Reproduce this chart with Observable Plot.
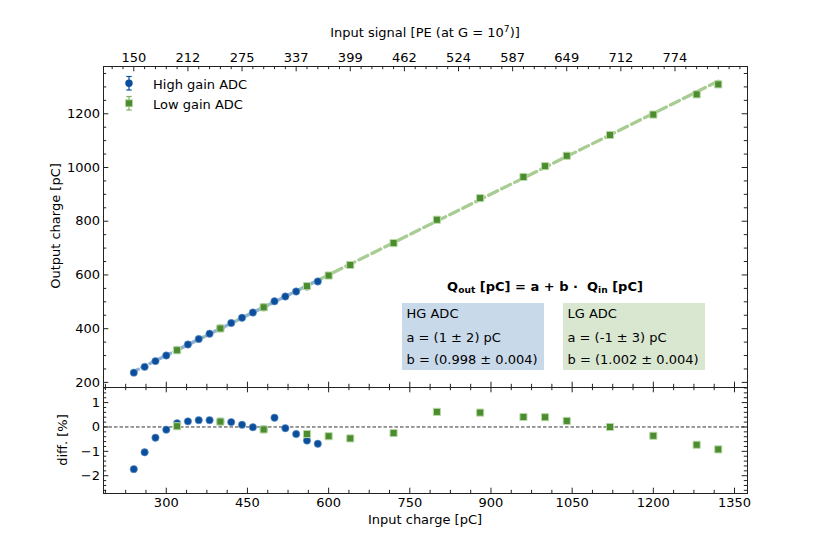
<!DOCTYPE html>
<html><head><meta charset="utf-8">
<script src="https://cdn.jsdelivr.net/npm/d3@7"></script>
<script src="https://cdn.jsdelivr.net/npm/@observablehq/plot@0.6"></script>
<style>
body{margin:0;background:#fff;}
#fig{position:relative;width:830px;height:554px;font-family:"DejaVu Sans",sans-serif;color:#000;background:#fff;overflow:hidden;}
#fig svg{position:absolute;left:0;overflow:visible;}
.abs{position:absolute;white-space:nowrap;font-size:13px;line-height:1;}
.c{transform:translate(-50%,-50%);}
.box{position:absolute;}
.box div{position:absolute;left:4.5px;white-space:nowrap;font-size:13px;line-height:1;transform:translateY(-50%);}
sub{font-size:70%;vertical-align:-0.25em;line-height:0;}
sup{font-size:70%;vertical-align:0.5em;line-height:0;}
</style></head><body><div id="fig"></div>
<script>
// ---- data ----
const hgInput  = [240,260,280,300,320,340,360,380,400,420,440,460,480,500,520,540,560,580];
const hgOutput = [236.3,257.8,279.2,300.1,320.9,341.1,361.3,381.3,401.1,421.0,440.5,460.0,479.5,501.9,519.7,538.3,556.8,575.8];
const hgDiff   = [-1.73,-1.04,-0.44,-0.11,0.15,0.23,0.28,0.28,0.22,0.20,0.09,-0.01,-0.10,0.38,-0.05,-0.29,-0.56,-0.69];
const lgInput  = [320,400,480,560,600,640,720,800,880,960,1000,1040,1120,1200,1280,1320];
const lgOutput = [319.7,400.7,479.5,558.5,597.9,637.3,718.6,805.6,886.0,964.9,1005.0,1043.7,1121.2,1197.1,1272.2,1309.4];
const lgDiff   = [0.03,0.22,-0.10,-0.29,-0.38,-0.47,-0.25,0.62,0.59,0.41,0.40,0.25,0.00,-0.36,-0.73,-0.92];
// fit lines (end points)
const hgFitX = [240,580], hgFitY = [240.5,579.8];
const lgFitX = [320,1320], lgFitY = [319.6,1321.6];
// ticks
const xMajor = [300,450,600,750,900,1050,1200,1350];
const yMajor = [200,400,600,800,1000,1200];
const diffMajor = [-2,-1,0,1];
const topTicks = [240,340,440,540,640,740,840,940,1040,1140,1240];
const topLabels = ["150","212","275","337","399","462","524","587","649","712","774"];

const hg = hgInput.map((x,i)=>({x, y:hgOutput[i], d:hgDiff[i]}));
const lg = lgInput.map((x,i)=>({x, y:lgOutput[i], d:lgDiff[i]}));
const hgFit = hgFitX.map((x,i)=>({x, y:hgFitY[i]}));
const lgFit = lgFitX.map((x,i)=>({x, y:lgFitY[i]}));

const xDomain = [184, 1374];
const blue = "#0b4f9c", green = "#4a8c2e";
const L = 103, R = 83, W = 830;
const PW = W - L - R;
const MAJ = 5.3, MIN = 3.2, TC = "#222";

const xMinor = d3.range(187.5, 1374, 37.5).filter(v => !xMajor.includes(v));
const topMinor = d3.range(200, 1374, 20).filter(v => !topTicks.includes(v));
const yMinor = d3.range(200, 1376, 50).filter(v => !yMajor.includes(v));
const dMinor = d3.range(-26, 17, 2).map(v => v/10).filter(v => !diffMajor.includes(v));

function ticksX(vals, H, len, side) {
  return Plot.tickX(vals, {x: d => d, stroke: TC, strokeWidth: 1,
    [side === "bottom" ? "insetTop" : "insetBottom"]: H - len});
}
function ticksY(vals, len, side) {
  return Plot.tickY(vals, {y: d => d, stroke: TC, strokeWidth: 1,
    [side === "left" ? "insetRight" : "insetLeft"]: PW - len});
}
const fmtPlain = d => String(d);
const fmtMinus = d => d < 0 ? "\u2212" + Math.abs(d) : String(d);

// ---- main panel ----
const mainTop = 66, mainH = 387;
const mH = mainH - mainTop;
const main = Plot.plot({
  width: W, height: mainH,
  marginTop: mainTop, marginBottom: 0, marginLeft: L, marginRight: R,
  x: {domain: xDomain}, y: {domain: [181, 1376]},
  style: {fontFamily: "DejaVu Sans", fontSize: "13px", color: "#000", background: "transparent", overflow: "visible"},
  marks: [
    Plot.line(lgFit, {x: "x", y: "y", stroke: "#a8cd93", strokeWidth: 3.3, strokeDasharray: "10,4.5"}),
    Plot.line(hgFit, {x: "x", y: "y", stroke: "#8fb1d8", strokeWidth: 3.3, strokeDasharray: "5,4"}),
    Plot.dot(hg, {x: "x", y: "y", symbol: "circle", r: 3.7, fill: blue, stroke: "#6f98c9", strokeWidth: 0.6}),
    Plot.dot(lg, {x: "x", y: "y", symbol: "square", r: 4.0, fill: green, stroke: "#b9d8a6", strokeWidth: 1}),
    ticksX(xMajor, mH, MAJ, "bottom"), ticksX(xMinor, mH, MIN, "bottom"),
    ticksX(topTicks, mH, MAJ, "top"), ticksX(topMinor, mH, MIN, "top"),
    ticksY(yMajor, MAJ, "left"), ticksY(yMinor, MIN, "left"),
    ticksY(yMajor, MAJ, "right"), ticksY(yMinor, MIN, "right"),
    Plot.frame({stroke: TC, strokeWidth: 1}),
    Plot.axisX({anchor: "top", ticks: topTicks, tickSize: 0, tickPadding: 5,
      tickFormat: d => topLabels[topTicks.indexOf(d)], label: null}),
    Plot.axisY({anchor: "left", ticks: yMajor, tickSize: 0, tickPadding: 3.5, tickFormat: fmtPlain, label: null})
  ]
});
main.style.top = "0px";

// ---- residual panel ----
const resH = 554 - mainH, resBottom = 493 - mainH;
const rH = resBottom;
const res = Plot.plot({
  width: W, height: resH,
  marginTop: 0, marginBottom: resH - resBottom, marginLeft: L, marginRight: R,
  x: {domain: xDomain}, y: {domain: [-2.73, 1.62]},
  style: {fontFamily: "DejaVu Sans", fontSize: "13px", color: "#000", background: "transparent", overflow: "visible"},
  marks: [
    Plot.ruleY([0], {stroke: "#333", strokeWidth: 1, strokeDasharray: "3.5,2"}),
    Plot.dot(hg, {x: "x", y: "d", symbol: "circle", r: 3.7, fill: blue, stroke: "#6f98c9", strokeWidth: 0.6}),
    Plot.dot(lg, {x: "x", y: "d", symbol: "square", r: 4.0, fill: green, stroke: "#b9d8a6", strokeWidth: 1}),
    ticksX(xMajor, rH, MAJ, "bottom"), ticksX(xMinor, rH, MIN, "bottom"),
    ticksX(xMajor, rH, MAJ, "top"), ticksX(xMinor, rH, MIN, "top"),
    ticksY(diffMajor, MAJ, "left"), ticksY(dMinor, MIN, "left"),
    ticksY(diffMajor, MAJ, "right"), ticksY(dMinor, MIN, "right"),
    Plot.frame({stroke: TC, strokeWidth: 1}),
    Plot.axisX({anchor: "bottom", ticks: xMajor, tickSize: 0, tickPadding: 4, tickFormat: fmtPlain, label: null}),
    Plot.axisY({anchor: "left", ticks: diffMajor, tickSize: 0, tickPadding: 3.5, tickFormat: fmtMinus, label: null})
  ]
});
res.style.top = mainH + "px";

const fig = document.getElementById("fig");
fig.appendChild(main);
fig.appendChild(res);

// ---- titles, legend, annotations ----
fig.insertAdjacentHTML("beforeend", `
<div class="abs c" style="left:425px;top:32px;">Input signal [PE (at G = 10<sup>7</sup>)]</div>
<div class="abs c" style="left:425px;top:519px;">Input charge [pC]</div>
<div class="abs" style="left:55px;top:226px;transform:translate(-50%,-50%) rotate(-90deg);">Output charge [pC]</div>
<div class="abs" style="left:62px;top:440px;transform:translate(-50%,-50%) rotate(-90deg);">diff. [%]</div>

<svg width="20" height="40" style="left:119px;top:73px;position:absolute;">
  <g stroke="${blue}" stroke-width="1.2"><line x1="10" x2="10" y1="3.5" y2="17"/><line x1="7.3" x2="12.7" y1="3.5" y2="3.5"/><line x1="7.3" x2="12.7" y1="17" y2="17"/></g>
  <circle cx="10" cy="10.3" r="3.7" fill="${blue}"/>
  <g stroke="#7fb063" stroke-width="1.2"><line x1="10" x2="10" y1="23.5" y2="37"/><line x1="7.3" x2="12.7" y1="23.5" y2="23.5"/><line x1="7.3" x2="12.7" y1="37" y2="37"/></g>
  <rect x="6.5" y="26.8" width="7" height="7" fill="${green}" stroke="#b9d8a6" stroke-width="0.8"/>
</svg>
<div class="abs" style="left:153px;top:83.5px;transform:translateY(-50%);">High gain ADC</div>
<div class="abs" style="left:153px;top:103.5px;transform:translateY(-50%);">Low gain ADC</div>

<div class="abs c" style="left:545px;top:286px;font-weight:bold;">Q<sub>out</sub> [pC] = a + b &middot;&nbsp; Q<sub>in</sub> [pC]</div>
<div class="box" style="left:402px;top:303px;width:142px;height:67px;background:#c8d9ea;">
  <div style="top:10px;">HG ADC</div>
  <div style="top:33.5px;">a = (1 &plusmn; 2) pC</div>
  <div style="top:55.5px;">b = (0.998 &plusmn; 0.004)</div>
</div>
<div class="box" style="left:563px;top:303px;width:142px;height:67px;background:#d9e7d1;">
  <div style="top:10px;">LG ADC</div>
  <div style="top:33.5px;">a = (-1 &plusmn; 3) pC</div>
  <div style="top:55.5px;">b = (1.002 &plusmn; 0.004)</div>
</div>
`);
</script>
</body></html>
